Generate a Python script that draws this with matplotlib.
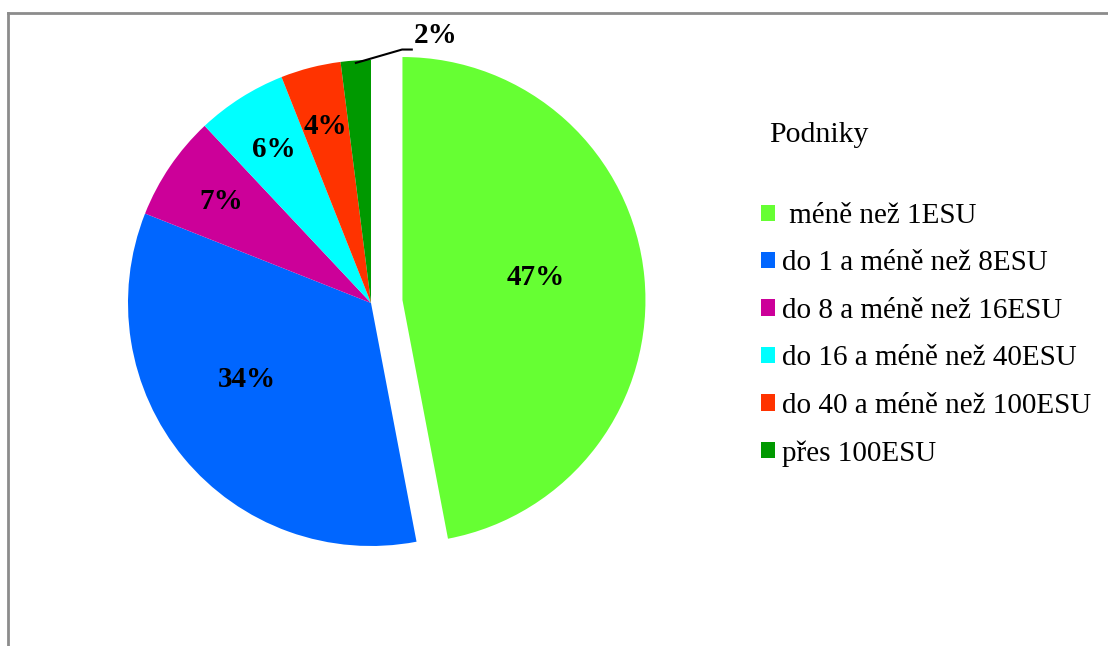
# Pie chart of farm enterprises (Podniky) by economic size class (ESU).
import numpy as np
import matplotlib.pyplot as plt
from matplotlib.lines import Line2D

# ------------------------------------------------------------------------------------------#
# Data.
# ------------------------------------------------------------------------------------------#
Categories = [' méně než 1ESU', 'do 1 a méně než 8ESU', 'do 8 a méně než 16ESU',
              'do 16 a méně než 40ESU', 'do 40 a méně než 100ESU', 'přes 100ESU']
Shares = [47, 34, 7, 6, 4, 2]
Colors = ['#66FF33', '#0066FF', '#CC0099', '#00FFFF', '#FF3300', '#009900']
Explode = [0.13, 0, 0, 0, 0, 0]
LegendTitle = 'Podniky'

# Label placement: radius (fraction of pie radius, None = outside) and angle shift (deg).
LabelRadius = [0.555, 0.60, 0.745, 0.75, 0.75, None]
LabelShift = [4.4, -8, 0, 0, 0, 0]

# ------------------------------------------------------------------------------------------#
# Figure setup.
# ------------------------------------------------------------------------------------------#
W, H = 1108, 646
FontType = 'Liberation Serif'
plt.rcParams['font.family'] = [FontType, 'DejaVu Serif']

fig = plt.figure(figsize=(W / 100, H / 100), dpi=100)
fig.patch.set_facecolor('white')

# Gray chart frame (only the top and left edges are inside the picture).
FrameColor = '#8C8C8C'
fig.add_artist(Line2D([8 / W, 8 / W], [0, 1 - 13 / H], transform=fig.transFigure,
                      color=FrameColor, linewidth=2))
fig.add_artist(Line2D([8 / W, 1], [1 - 13 / H, 1 - 13 / H], transform=fig.transFigure,
                      color=FrameColor, linewidth=2))

# Pie axes: centre at (371, 303) px, radius 243 px.
Cx, Cy, R, Half = 371, 303, 243, 300
ax = fig.add_axes([(Cx - Half) / W, (H - Cy - Half) / H, 2 * Half / W, 2 * Half / H])

Wedges, _ = ax.pie(Shares, colors=Colors, explode=Explode, startangle=90,
                   counterclock=False, radius=1,
                   wedgeprops=dict(linewidth=0, edgecolor='none'))
Lim = Half / R
ax.set_xlim(-Lim, Lim)
ax.set_ylim(-Lim, Lim)
ax.axis('off')

# Percentage labels.
LabelFont = dict(fontsize=21, fontweight='bold', fontname=FontType, color='black')
for Wedge, Share, Rad, Shift in zip(Wedges, Shares, LabelRadius, LabelShift):
    Mid = np.deg2rad(0.5 * (Wedge.theta1 + Wedge.theta2) + Shift)
    x0, y0 = Wedge.center
    if Rad is not None:
        ax.text(x0 + Rad * np.cos(Mid), y0 + Rad * np.sin(Mid), f'{Share}%',
                ha='center', va='center', **LabelFont)
    else:
        # Outside label with a leader line.
        xe, ye = x0 + 0.99 * np.cos(Mid), y0 + 0.99 * np.sin(Mid)
        xk, yk = xe + 0.19, ye + 0.055
        ax.plot([xe, xk, xk + 0.04], [ye, yk, yk], color='black', linewidth=1.5,
                clip_on=False)
        ax.text(xk + 0.14, yk + 0.058, f'{Share}%', ha='center', va='center', **LabelFont)

# Legend.
fig.text(769 / W, 1 - 135 / H, LegendTitle, fontsize=21.5, fontname=FontType,
         ha='left', va='center')
fig.legend(Wedges, Categories, loc='upper left', bbox_to_anchor=(761 / W, 1 - 203 / H),
           frameon=False, handlelength=0.48, handleheight=0.48,
           handletextpad=0.25, labelspacing=0.735, borderpad=0, borderaxespad=0,
           prop=dict(family=FontType, size=21))

fig.savefig('out.png', dpi=100)
